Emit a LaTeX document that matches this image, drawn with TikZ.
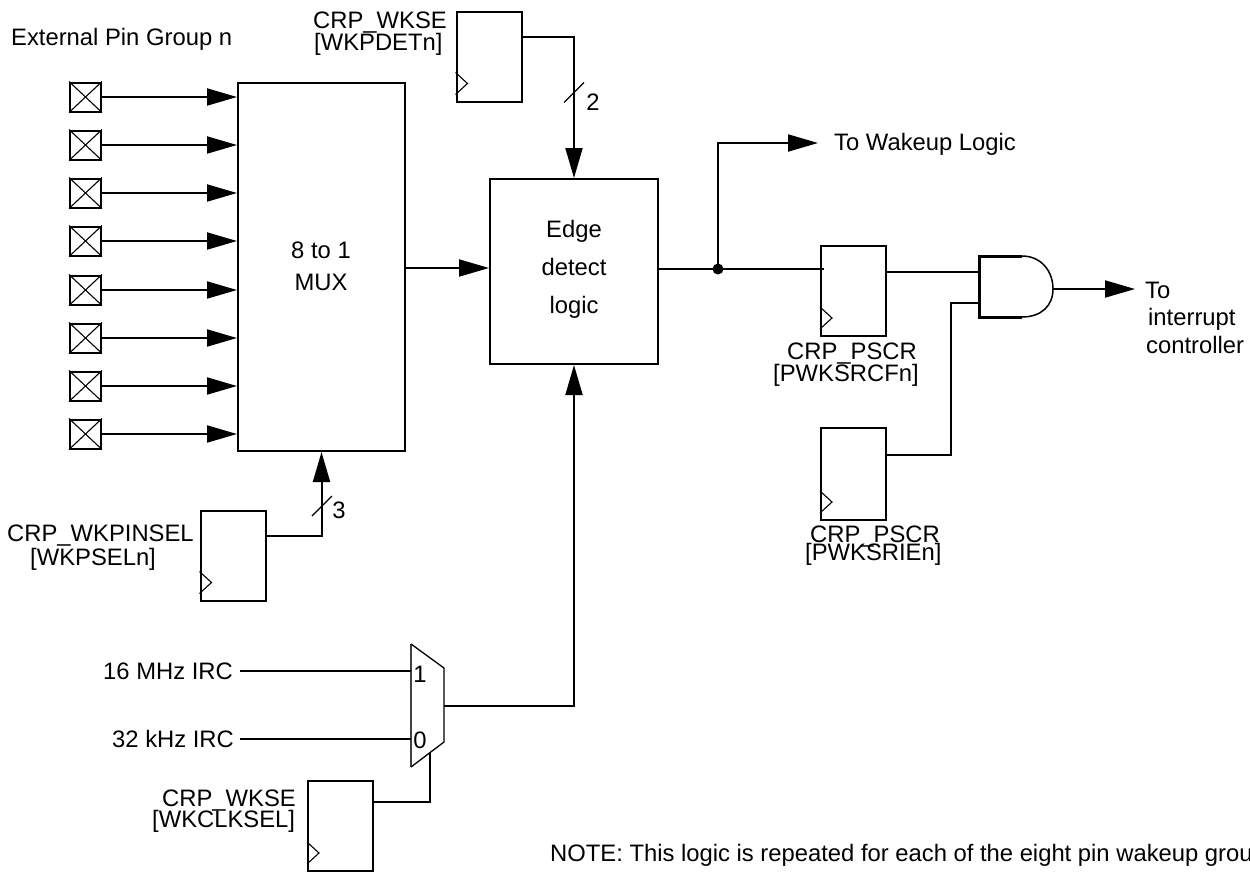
\documentclass[tikz,border=0pt]{standalone}
\usepackage{fontspec}
\setmainfont{Liberation Sans}
\usetikzlibrary{arrows.meta}
\tikzset{
  wire/.style={line width=2pt},
  sig/.style={wire,-{Triangle[length=30pt,width=17pt]}},
  hair/.style={line width=1.1pt},
  blockbox/.style={draw,line width=2pt,inner sep=0pt},
  ffbox/.style={blockbox,minimum width=65pt,minimum height=90pt},
  pinbox/.style={blockbox,minimum width=31pt,minimum height=29pt},
  lbl/.style={inner sep=0pt,anchor=base west,font=\fontsize{23.8}{26}\selectfont},
  lblc/.style={lbl,anchor=base}
}
\begin{document}
\begin{tikzpicture}[x=1pt,y=-1pt]
\useasboundingbox (0,0) rectangle (1250,871);
\clip (0,0) rectangle (1250,871);
% blocks
\node[blockbox,minimum width=167pt,minimum height=368pt] (mux) at (321.5,267) {};
\node[blockbox,minimum width=168pt,minimum height=185pt] (edge) at (574,271.5) {};
\node[ffbox] (ffdet) at (489,56.5) {};
\node[ffbox] (ffsel) at (233,555.5) {};
\node[ffbox] (ffsrc) at (853.5,291) {};
\node[ffbox,minimum height=92pt] (ffie) at (853.5,474) {};
\node[ffbox] (ffclk) at (340.5,826) {};
% clock marks
\foreach \f in {ffdet,ffsel,ffsrc,ffie,ffclk}
  \draw[hair] (\f.south west) ++(0,-30) -- ++(12,11) -- ++(-12,11);
% pins
\node[lbl] (title) at (11,45) {External Pin Group n};
\foreach \i/\y in {1/97,2/145,3/193,4/241,5/290,6/338,7/386,8/434}{
  \node[pinbox] (pin\i) at (85.5,\y) {};
  \draw[hair] (pin\i.north west) -- (pin\i.south east) (pin\i.north east) -- (pin\i.south west);
  \draw[sig] (pin\i.east) -- (pin\i.east -| mux.west);
}
% block text
\node[lblc] (muxa) at (321,258) {8 to 1};
\node[lblc] (muxb) at (321,290) {MUX};
\node[lblc] (edgea) at (574,237) {Edge};
\node[lblc] (edgeb) at (574,275) {detect};
\node[lblc] (edgec) at (574,313) {logic};
% mux to edge
\coordinate (muxout) at ([yshift=-1pt]mux.east);
\draw[sig] (muxout) -- (muxout -| edge.west);
% detect register
\node[lbl] (detA) at (313,28) {CRP\_WKSE};
\node[lbl] (detB) at (314,50) {[WKPDETn]};
\coordinate (detout) at ([yshift=-26pt]ffdet.north east);
\draw[sig] (detout) -| (edge.north);
\coordinate (slash2) at (574,92.5);
\draw[hair] ([shift={(-10,10)}]slash2) -- ([shift={(10,-10)}]slash2);
\node[lblc] (two) at (593,110) {2};
% pin select register
\node[lbl] (selA) at (7,541) {CRP\_WKPINSEL};
\node[lbl] (selB) at (30,565) {[WKPSELn]};
\coordinate (selout) at ([yshift=-26pt]ffsel.north east);
\draw[sig] (selout) -| (mux.south);
\coordinate (slash3) at (322,506);
\draw[hair] ([shift={(-10,10)}]slash3) -- ([shift={(10,-10)}]slash3);
\node[lblc] (three) at (339,518) {3};
% clock mux
\coordinate (cmA) at (411,644);
\coordinate (cmB) at (444,668);
\coordinate (cmC) at (444,742);
\coordinate (cmD) at (411,767);
\draw[line width=1.3pt,black!75] (cmD) -- (cmA);
\draw[line width=1.3pt] (cmA) -- (cmB) -- (cmC) -- (cmD);
\node[lbl] (mhz) at (103,679) {16 MHz IRC};
\node[lbl] (khz) at (112,747) {32 kHz IRC};
\coordinate (in1) at (411,671);
\coordinate (in0) at (411,739);
\coordinate (mhzw) at (240,671);
\coordinate (khzw) at (240,739);
\draw[wire] (mhzw) -- (in1);
\draw[wire] (khzw) -- (in0);
\node[lblc] (one) at (420,682) {1};
\node[lblc] (zero) at (420,748) {0};
\coordinate (cmout) at (444,706);
\draw[sig] (cmout) -| (edge.south);
\coordinate (cmsel) at (430,752);
\coordinate (clkout) at ([yshift=-22pt]ffclk.north east);
\draw[wire] (clkout) -| (cmsel);
\node[lbl] (clkA) at (162,806) {CRP\_WKSE};
\node[lbl] (clkB) at (152,827) {[WKCLKSEL]};
% edge output
\coordinate (dot) at (718,269);
\coordinate (srcin) at (824,269);
\draw[wire] (edge.east |- dot) -- (srcin);
\fill (dot) circle (5.5);
\coordinate (wakeend) at (818,143);
\draw[sig] (dot) |- (wakeend);
\node[lbl] (wake) at (834,150) {To Wakeup Logic};
% source flag and enable registers
\node[lbl] (srcA) at (787,359) {CRP\_PSCR};
\node[lbl] (srcB) at (773,381) {[PWKSRCFn]};
\node[lbl] (ieA) at (810,542) {CRP\_PSCR};
\node[lbl] (ieB) at (805,560) {[PWKSRIEn]};
% AND gate
\coordinate (andTL) at (979,256);
\coordinate (andBL) at (979,317);
\coordinate (andT) at (1022,256);
\coordinate (andB) at (1022,317);
\coordinate (andO) at (1053,289);
\draw[line width=3pt,line join=miter] (andT) -- (andTL) -- (andBL) -- (andB);
\draw[line width=1.5pt] (andT) .. controls (1041,256) and (1053,271) .. (andO)
   .. controls (1053,306) and (1041,317) .. (andB);
\coordinate (andIn1) at (979,272);
\coordinate (andIn2) at (979,303);
\coordinate (srcout) at (ffsrc.east |- andIn1);
\coordinate (ieout) at (ffie.east |- 0,455);
\coordinate (ietrunk) at (951,455);
\draw[wire] (srcout) -- (andIn1);
\draw[wire] (ieout) -- (ietrunk) |- (andIn2);
\coordinate (intend) at (1135,289);
\draw[sig] (andO) -- (intend);
\node[lbl] (toA) at (1145,298) {To};
\node[lbl] (toB) at (1148,325) {interrupt};
\node[lbl] (toC) at (1146,353) {controller};
% note
\node[lbl] (note) at (550,861) {NOTE: This logic is repeated for each of the eight pin wakeup grou};
\end{tikzpicture}
\end{document}
